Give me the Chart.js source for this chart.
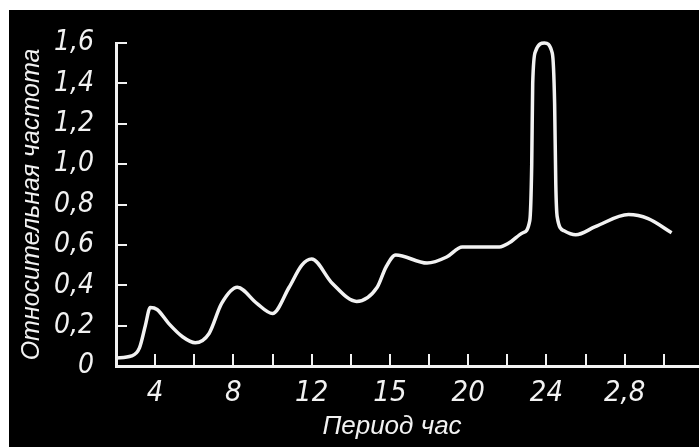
<!DOCTYPE html>
<html>
<head>
<meta charset="utf-8">
<script src="https://cdn.jsdelivr.net/npm/chart.js@4"></script>
<style>
  html, body { margin: 0; padding: 0; background: #fff; }
  #wrap { position: absolute; left: 9px; top: 10px; width: 690px; height: 437px; background: #000; }
</style>
</head>
<body>
<div id="wrap"><canvas id="canvasChart"></canvas></div>
<script>
const periodHours = [2.0, 2.8, 3.2, 3.5, 3.75, 4.1, 4.7, 5.4, 6.05, 6.75, 7.4, 8.2, 9.2, 10.0, 10.85, 11.5, 12.0, 13.05, 14.3, 15.35, 15.8, 16.3, 17.9, 18.9, 19.7, 21.6, 22.1, 22.8, 23.15, 23.25, 23.3, 23.45, 23.9, 24.3, 24.42, 24.48, 24.55, 24.9, 25.5, 26.5, 28.2, 29.2, 30.4]
const relFrequency = [0.04, 0.05, 0.09, 0.2, 0.29, 0.28, 0.21, 0.145, 0.115, 0.16, 0.31, 0.39, 0.31, 0.26, 0.39, 0.5, 0.53, 0.41, 0.32, 0.39, 0.49, 0.55, 0.51, 0.54, 0.59, 0.59, 0.61, 0.66, 0.72, 1.0, 1.4, 1.56, 1.6, 1.55, 1.3, 0.9, 0.74, 0.67, 0.65, 0.69, 0.75, 0.73, 0.66]

const xLabelValues = [4, 8, 12, 16, 20, 24, 28]
const xLabelTexts = ['4', '8', '12', '15', '20', '24', '2,8']
const xMarkValues = [4, 6, 8, 10, 12, 14, 16, 18, 20, 22, 24, 26, 28, 30]
const yTickValues = [0, 0.2, 0.4, 0.6, 0.8, 1.0, 1.2, 1.4, 1.6]
const yTickLabels = ['0', '0,2', '0,4', '0,6', '0,8', '1,0', '1,2', '1,4', '1,6']

const ink = '#f2f2f2'
const fontFamily = "'Liberation Sans Narrow', 'DejaVu Sans Condensed', sans-serif"

// inward tick marks and the x title
const sketchAxes = {
  id: 'sketchAxes',
  afterDraw(chart) {
    const { ctx, chartArea, scales } = chart
    ctx.save()
    ctx.strokeStyle = ink
    ctx.lineWidth = 2
    xMarkValues.forEach((v) => {
      const px = Math.round(scales.x.getPixelForValue(v))
      ctx.beginPath()
      ctx.moveTo(px, chartArea.bottom)
      ctx.lineTo(px, chartArea.bottom - 12)
      ctx.stroke()
    })
    yTickValues.slice(1).forEach((v) => {
      const py = Math.round(scales.y.getPixelForValue(v))
      ctx.beginPath()
      ctx.moveTo(chartArea.left, py)
      ctx.lineTo(chartArea.left + 11, py)
      ctx.stroke()
    })
    ctx.fillStyle = ink
    ctx.font = `italic 26px 'Liberation Sans', sans-serif`
    ctx.textAlign = 'center'
    ctx.textBaseline = 'middle'
    ctx.fillText('Период час', 383, 417)
    ctx.restore()
  },
}

new Chart(document.getElementById('canvasChart'), {
  type: 'line',
  data: {
    datasets: [
      {
        data: periodHours.map((h, i) => ({ x: h, y: relFrequency[i] })),
        borderColor: ink,
        borderWidth: 3.5,
        pointRadius: 0,
        cubicInterpolationMode: 'monotone',
        clip: false,
      },
    ],
  },
  options: {
    responsive: true,
    maintainAspectRatio: false,
    animation: false,
    devicePixelRatio: 1,
    layout: { padding: { top: 33, right: 0, bottom: 0, left: 0 } },
    scales: {
      x: {
        type: 'linear',
        min: 2,
        max: 31.8,
        afterFit: (scale) => { scale.height = 81 },
        afterBuildTicks: (scale) => { scale.ticks = xLabelValues.map((v) => ({ value: v })) },
        grid: { display: false },
        border: { display: true, color: ink, width: 3 },
        ticks: {
          autoSkip: false,
          maxRotation: 0,
          padding: 2,
          color: ink,
          font: { family: fontFamily, size: 29, style: 'italic' },
          callback: (value, index) => xLabelTexts[index],
        },
      },
      y: {
        min: 0,
        max: 1.6,
        afterFit: (scale) => { scale.width = 107 },
        afterBuildTicks: (scale) => { scale.ticks = yTickValues.map((v) => ({ value: v })) },
        grid: { display: false },
        border: { display: true, color: ink, width: 3 },
        ticks: {
          padding: 14,
          color: ink,
          font: { family: fontFamily, size: 28, style: 'italic' },
          callback: (value, index) => yTickLabels[index],
        },
        title: {
          display: true,
          text: 'Относительная частота',
          color: ink,
          padding: { top: 8, bottom: 0 },
          font: { family: "'Liberation Sans', sans-serif", size: 25, style: 'italic' },
        },
      },
    },
    plugins: {
      legend: { display: false },
      tooltip: { enabled: false },
    },
  },
  plugins: [sketchAxes],
})
</script>
</body>
</html>
